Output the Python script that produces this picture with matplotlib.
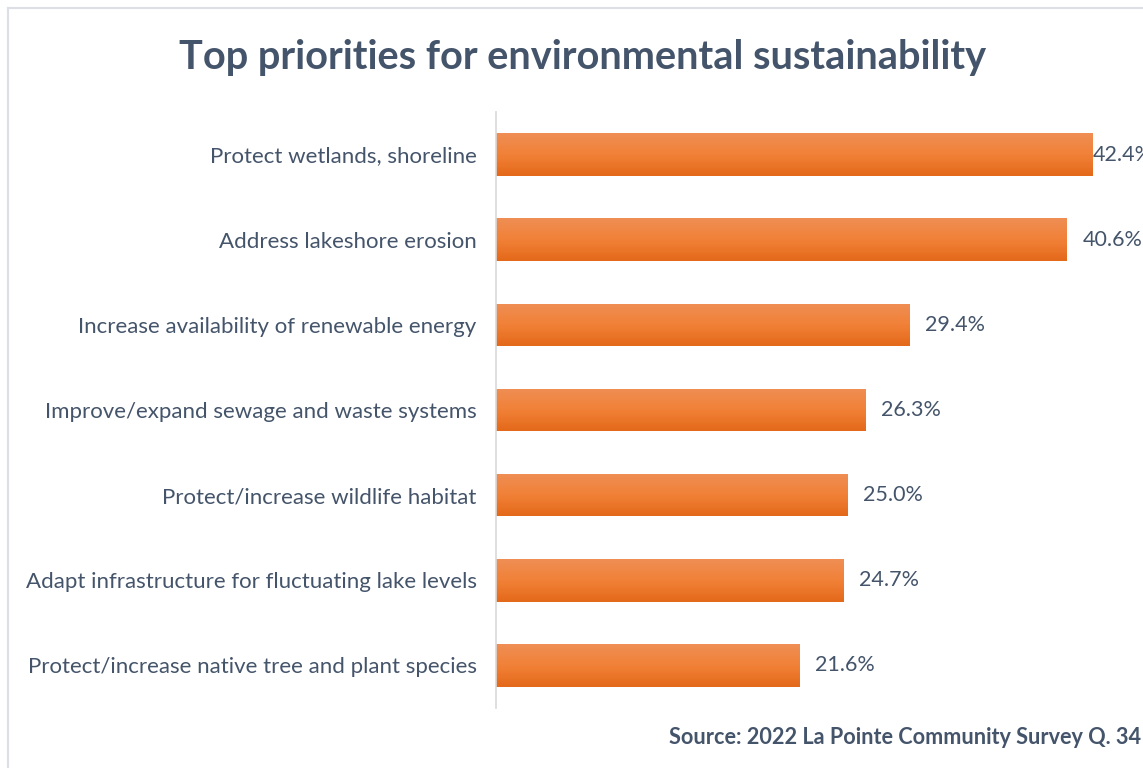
import numpy as np
import matplotlib.pyplot as plt
from matplotlib.colors import LinearSegmentedColormap
from matplotlib.lines import Line2D

# Survey results (percent of respondents)
categories = [
    "Protect wetlands, shoreline",
    "Address lakeshore erosion",
    "Increase availability of renewable energy",
    "Improve/expand sewage and waste systems",
    "Protect/increase wildlife habitat",
    "Adapt infrastructure for fluctuating lake levels",
    "Protect/increase native tree and plant species",
]
values = [42.4, 40.6, 29.4, 26.3, 25.0, 24.7, 21.6]

TEXT = "#44546A"
plt.rcParams['font.family'] = ['Lato', 'DejaVu Sans']

fig = plt.figure(figsize=(11.43, 7.68), dpi=100)
ax = fig.add_axes([496 / 1143, 60 / 768, 1 - 496 / 1143, 596 / 768])

y = np.arange(len(categories))
bars = ax.barh(y, values, height=0.5, color="#ED7D31")

# vertical orange gradient on each bar, lighter on top
grad = LinearSegmentedColormap.from_list("bar", ["#EF8E55", "#F18137", "#E4691A"])
img = np.linspace(0, 1, 64).reshape(-1, 1)
for b in bars:
    x0, y0 = b.get_x(), b.get_y()
    w, h = b.get_width(), b.get_height()
    b.set_facecolor("none")
    b.set_edgecolor("none")
    im = ax.imshow(img, cmap=grad, aspect="auto", origin="upper",
                   extent=[x0, x0 + w, y0 + h, y0], zorder=2)
    im.set_clip_path(b)

xmax = (1143 - 496) / 14.06
for yi, v in zip(y, values):
    # labels that would run past the edge are pulled back onto the bar end
    xt = min(v + 1.1, xmax - 3.6)
    ax.text(xt, yi, f"{v:.1f}%", va="center", ha="left",
            fontsize=15.5, color=TEXT, clip_on=False)

ax.set_xlim(0, xmax)
ax.set_ylim(len(categories) - 0.5, -0.5)
ax.set_yticks(y)
ax.set_yticklabels(categories, fontsize=16, color=TEXT)
ax.tick_params(axis="y", length=0, pad=14)
ax.set_xticks([])
for s in ["top", "right", "bottom"]:
    ax.spines[s].set_visible(False)
ax.spines["left"].set_color("#D9D9D9")
ax.spines["left"].set_linewidth(1.2)
ax.set_facecolor("none")

fig.text(583 / 1143, 1 - 57 / 768, "Top priorities for environmental sustainability",
         ha="center", va="center", fontsize=28.6, fontweight="bold", color=TEXT)
fig.text(1141 / 1143, 1 - 738 / 768, "Source: 2022 La Pointe Community Survey Q. 34",
         ha="right", va="center", fontsize=15.6, fontweight="bold", color=TEXT)

# thin frame around the chart area
fig.add_artist(Line2D([7.5 / 1143, 7.5 / 1143], [0, 1 - 7.5 / 768],
                      transform=fig.transFigure, color="#DCDFE6", lw=1.5))
fig.add_artist(Line2D([7.5 / 1143, 1], [1 - 7.5 / 768, 1 - 7.5 / 768],
                      transform=fig.transFigure, color="#DCDFE6", lw=1.5))

fig.savefig("out.png", dpi=100)
